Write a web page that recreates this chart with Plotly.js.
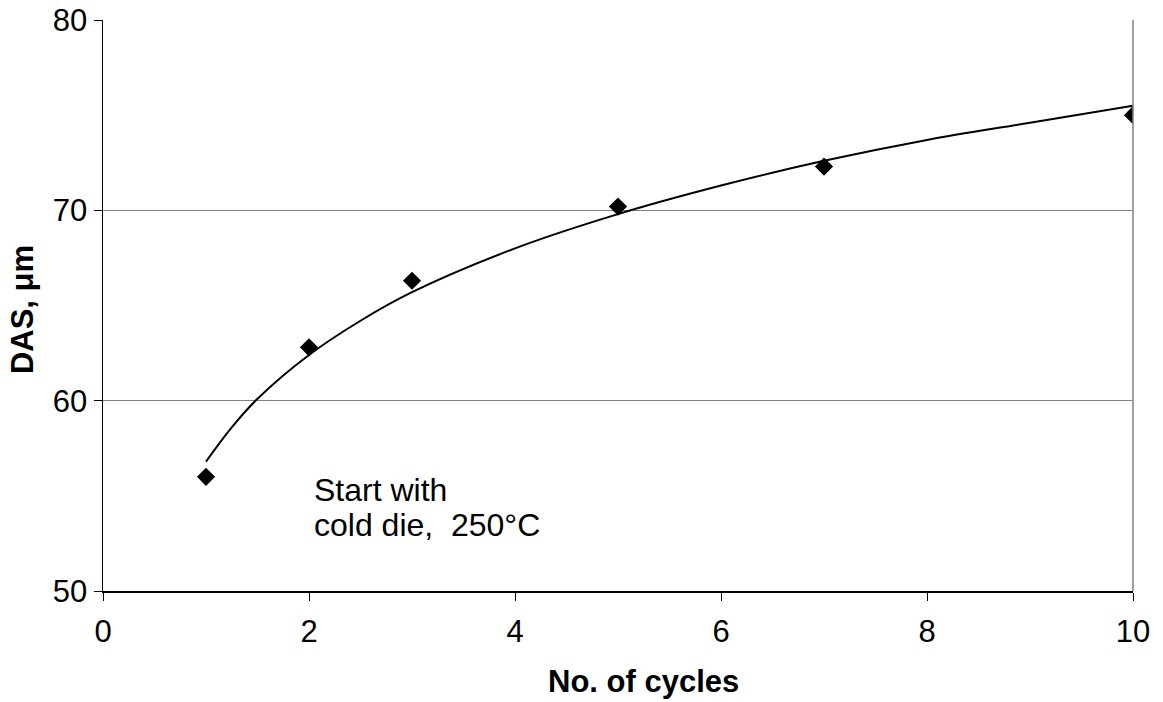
<!DOCTYPE html>
<html>
<head>
<meta charset="utf-8">
<script src="https://cdn.plot.ly/plotly-3.0.1.min.js"></script>
<style>html,body{margin:0;padding:0;background:#fff;}#chart{width:1163px;height:702px;}</style>
</head>
<body>
<div id="chart"></div>
<script>
// Measured data points
var cycles = [1, 2, 3, 5, 7, 10];
var das = [56.0, 62.8, 66.3, 70.2, 72.3, 75.0];
// Trendline
var trendX = [1, 1.25, 1.5, 2, 2.5, 3, 4, 5, 6, 7, 8, 9, 10];
var trendY = [56.8, 58.6, 60.1, 62.4, 64.2, 65.7, 68.0, 69.8, 71.3, 72.6, 73.7, 74.6, 75.5];
var xTicks = [0, 2, 4, 6, 8, 10];
var yTicks = [50, 60, 70, 80];
var xTitle = "No. of cycles";
var yTitle = "DAS, μm";
var noteLines = ["Start with", "cold die,  250°C"];

var font = 'Arial, "Liberation Sans", sans-serif';
var fs = 31;

var data = [
  {
    x: trendX, y: trendY, type: 'scatter', mode: 'lines',
    line: {color: '#000', width: 2, shape: 'spline'},
    hoverinfo: 'skip', showlegend: false
  },
  {
    x: cycles, y: das, type: 'scatter', mode: 'markers',
    marker: {symbol: 'diamond', size: 14, color: '#000'},
    showlegend: false
  }
];

var layout = {
  width: 1163, height: 702,
  margin: {l: 103, r: 30, t: 20, b: 111},
  paper_bgcolor: '#fff', plot_bgcolor: '#fff',
  font: {family: font, color: '#000', size: fs},
  showlegend: false,
  xaxis: {
    range: [0, 10], tickvals: xTicks, ticktext: xTicks.map(String),
    showgrid: false, zeroline: false,
    showline: true, linecolor: '#000', linewidth: 1.5,
    ticks: 'outside', ticklen: 8, tickcolor: '#000', tickwidth: 1,
    ticklabelstandoff: 4,
    tickfont: {size: fs, family: font, color: '#000'}
  },
  yaxis: {
    range: [50, 80], tickvals: yTicks, ticktext: yTicks.map(String),
    showgrid: true, gridcolor: '#808080', gridwidth: 1,
    zeroline: false,
    showline: true, linecolor: '#000', linewidth: 1.5,
    ticks: 'outside', ticklen: 8, tickcolor: '#000', tickwidth: 1,
    tickfont: {size: fs, family: font, color: '#000'}
  },
  shapes: [
    {type: 'line', xref: 'paper', yref: 'paper', x0: 1, x1: 1, y0: 0, y1: 1,
     line: {color: '#808080', width: 1.5}}
  ],
  annotations: [
    {x: 0.525, y: -0.159, xref: 'paper', yref: 'paper', text: '<b>' + xTitle + '</b>',
     showarrow: false, xanchor: 'center', yanchor: 'middle',
     font: {size: fs, family: font, color: '#000'}},
    {x: -0.0786, y: 0.492, xref: 'paper', yref: 'paper', text: '<b>' + yTitle + '</b>',
     showarrow: false, xanchor: 'center', yanchor: 'middle', textangle: -90,
     font: {size: fs, family: font, color: '#000'}},
    {x: 2.03, y: 55.31, xref: 'x', yref: 'y', text: noteLines[0], showarrow: false,
     xanchor: 'left', yanchor: 'middle', align: 'left',
     font: {size: 32, family: font, color: '#000'}},
    {x: 2.03, y: 53.47, xref: 'x', yref: 'y', text: noteLines[1], showarrow: false,
     xanchor: 'left', yanchor: 'middle', align: 'left',
     font: {size: 32, family: font, color: '#000'}}
  ]
};

Plotly.newPlot('chart', data, layout, {displayModeBar: false, staticPlot: true});
</script>
</body>
</html>
